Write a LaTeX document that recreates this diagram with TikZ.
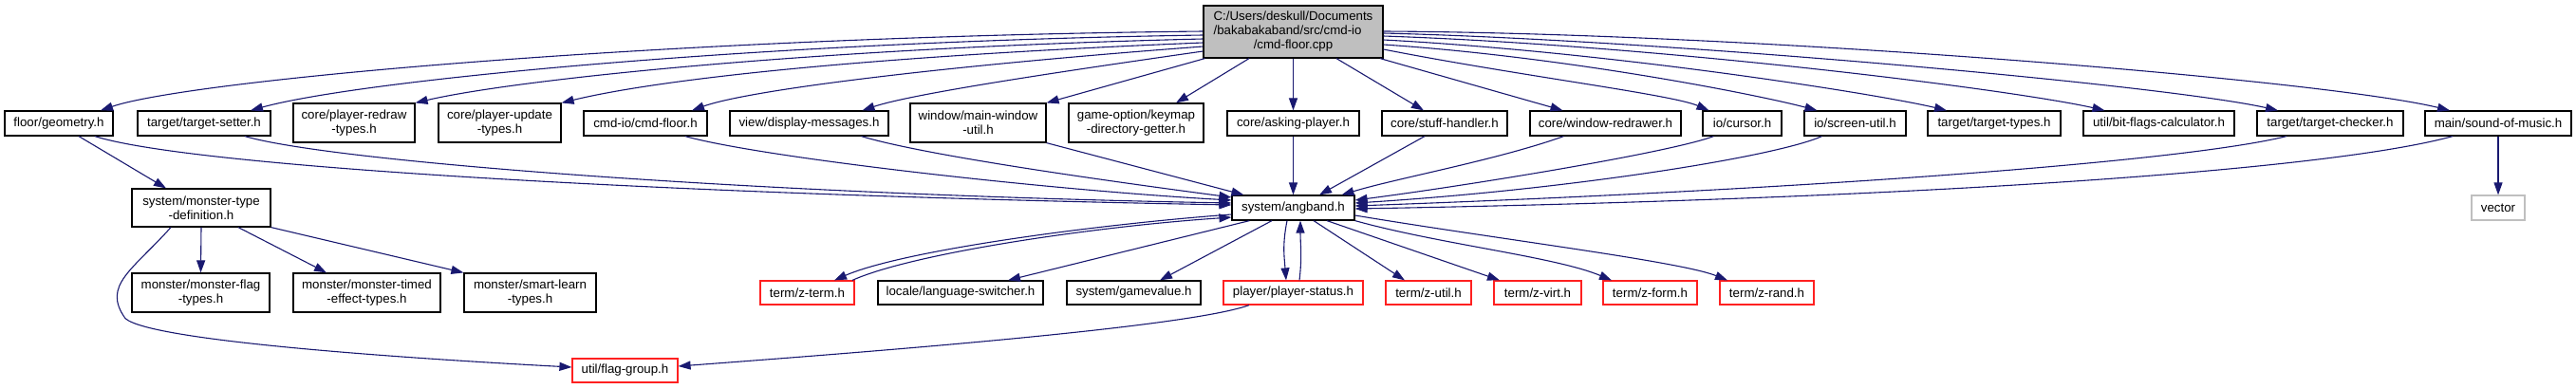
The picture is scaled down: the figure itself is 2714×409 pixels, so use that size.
\documentclass[tikz,border=0pt]{standalone}
\usepackage{fontspec}
\setmainfont{Liberation Sans}
\usetikzlibrary{arrows.meta,calc}
\definecolor{edgecol}{HTML}{191970}
\definecolor{topfill}{HTML}{BFBFBF}
\definecolor{nored}{HTML}{FF2020}
\definecolor{nogrey}{HTML}{BFBFBF}
\begin{document}
\begin{tikzpicture}[x=1bp,y=-1bp,
  nd/.style={draw=black, line width=1.2bp, rectangle, inner sep=0pt, align=center,
     font=\fontsize{13.3bp}{15bp}\selectfont, minimum height=26bp},
  two/.style={minimum height=41bp},
  rnd/.style={nd, draw=nored},
  gnd/.style={nd, draw=nogrey},
  lnk/.style={draw=edgecol, line width=1.1bp, -{Triangle[length=13bp,width=9bp]}}]
\useasboundingbox (0,0) rectangle (2714,409);
% top
\node[nd, fill=topfill, minimum width=189bp, minimum height=55bp] (top) at (1362.5,33.5)
  {\begin{tabular}{@{}l@{}}C:/Users/deskull/Documents\\/bakabakaband/src/cmd-io\\\multicolumn{1}{@{}c@{}}{/cmd-floor.cpp}\end{tabular}};
% row 1
\node[nd, minimum width=114bp] (geom) at (62,130) {floor/geometry.h};
\node[nd, minimum width=140bp] (tsetter) at (215,130) {target/target-setter.h};
\node[nd, two, minimum width=128bp] (predraw) at (373,129.5) {core/player-redraw\\-types.h};
\node[nd, two, minimum width=129bp] (pupdate) at (526.5,129.5) {core/player-update\\-types.h};
\node[nd, minimum width=130bp] (cmdfloor) at (680,130) {cmd-io/cmd-floor.h};
\node[nd, minimum width=167bp] (dispmsg) at (852.5,130) {view/display-messages.h};
\node[nd, two, minimum width=143bp] (mainwin) at (1030.5,129.5) {window/main-window\\-util.h};
\node[nd, two, minimum width=142bp] (keymap) at (1197,129.5) {game-option/keymap\\-directory-getter.h};
\node[nd, minimum width=139bp] (asking) at (1362.5,130) {core/asking-player.h};
\node[nd, minimum width=132bp] (stuff) at (1522,130) {core/stuff-handler.h};
\node[nd, minimum width=159bp] (winredraw) at (1691.5,130) {core/window-redrawer.h};
\node[nd, minimum width=83bp] (cursor) at (1835.5,130) {io/cursor.h};
\node[nd, minimum width=107bp] (screenutil) at (1954.5,130) {io/screen-util.h};
\node[nd, minimum width=140bp] (ttypes) at (2101,130) {target/target-types.h};
\node[nd, minimum width=159bp] (bitflags) at (2274.5,130) {util/bit-flags-calculator.h};
\node[nd, minimum width=154bp] (tchecker) at (2455,130) {target/target-checker.h};
\node[nd, minimum width=154bp] (sound) at (2632,130) {main/sound-of-music.h};
% row 2
\node[nd, minimum width=146bp, minimum height=40bp] (mdef) at (212,219) {system/monster-type\\-definition.h};
\node[nd, minimum width=129bp] (ang) at (1362.5,219) {system/angband.h};
\node[gnd, minimum width=56bp] (vector) at (2632,219) {vector};
% row 3
\node[nd, two, minimum width=145bp] (mflag) at (211.5,308.5) {monster/monster-flag\\-types.h};
\node[nd, two, minimum width=155bp] (mtimed) at (386.5,308.5) {monster/monster-timed\\-effect-types.h};
\node[nd, two, minimum width=139bp] (msmart) at (558.5,308.5) {monster/smart-learn\\-types.h};
\node[rnd, minimum width=99bp, minimum height=25bp] (zterm) at (850.5,308.5) {term/z-term.h};
\node[nd, minimum width=174bp, minimum height=25bp] (langsw) at (1012,308.5) {locale/language-switcher.h};
\node[nd, minimum width=141bp, minimum height=25bp] (gameval) at (1194.5,308.5) {system/gamevalue.h};
\node[rnd, minimum width=147bp, minimum height=25bp] (pstatus) at (1362.5,308.5) {player/player-status.h};
\node[rnd, minimum width=90bp, minimum height=25bp] (zutil) at (1505,308.5) {term/z-util.h};
\node[rnd, minimum width=92bp, minimum height=25bp] (zvirt) at (1620,308.5) {term/z-virt.h};
\node[rnd, minimum width=99bp, minimum height=25bp] (zform) at (1738.5,308.5) {term/z-form.h};
\node[rnd, minimum width=99bp, minimum height=25bp] (zrand) at (1861.5,308.5) {term/z-rand.h};
% row 4
\node[rnd, minimum width=111bp, minimum height=25bp] (fgroup) at (658.5,390.5) {util/flag-group.h};

% ---- edges from top, left side
\draw[lnk] ($(top.west)+(0,-0.5)$) .. controls +(-568,6) and +(94,-32) .. ($(geom.north)+(44,0)$);
\draw[lnk] ($(top.west)+(0,3.5)$) .. controls +(-468,7) and +(116,-32) .. ($(tsetter.north)+(49,0)$);
\draw[lnk] ($(top.west)+(0,7.5)$) .. controls +(-418,10) and +(103,-24) .. (predraw.north east);
\draw[lnk] ($(top.west)+(0,11.5)$) .. controls +(-368,15) and +(99,-24) .. (pupdate.north east);
\draw[lnk] ($(top.west)+(0,15.5)$) .. controls +(-268,20) and +(61,-22) .. ($(cmdfloor.north)+(49,0)$);
\draw[lnk] ($(top.west)+(0,20.5)$) .. controls +(-168,24) and +(51,-17) .. ($(dispmsg.north)+(56,0)$);
\draw[lnk] ($(top.south west)+(2,0)$) -- (mainwin.north east);
\draw[lnk] ($(top.south)+(-46.5,0)$) -- ($(keymap.north)+(42,0)$);
\draw[lnk] (top.south) -- (asking.north);
\draw[lnk] ($(top.south)+(45.5,0)$) -- ($(stuff.north)+(-22,0)$);
\draw[lnk] ($(top.south)+(91.5,0)$) -- ($(winredraw.north)+(-45,0)$);
% right side
\draw[lnk] ($(top.east)+(0,18.5)$) .. controls +(143,28) and +(-40,-17) .. ($(cursor.north)+(-35,0)$);
\draw[lnk] ($(top.east)+(0,13.5)$) .. controls +(193,13) and +(-64.5,-17) .. ($(screenutil.north)+(-40,0)$);
\draw[lnk] ($(top.east)+(0,8.5)$) .. controls +(243,13) and +(-71,-17) .. ($(ttypes.north)+(-50,0)$);
\draw[lnk] ($(top.east)+(0,4.5)$) .. controls +(293,10) and +(-97.5,-22) .. ($(bitflags.north)+(-57,0)$);
\draw[lnk] ($(top.east)+(0,1.5)$) .. controls +(293,7) and +(-120,-27) .. ($(tchecker.north)+(-55,0)$);
\draw[lnk] ($(top.east)+(0,-0.5)$) .. controls +(393,2) and +(-131,-32) .. ($(sound.north)+(-51,0)$);

% ---- into angband
\draw[lnk] ($(geom.south)+(38,0)$) .. controls +(100,32) and +(-598,-11) .. ($(ang.west)+(0,-3)$);
\draw[lnk] ($(tsetter.south)+(43,0)$) .. controls +(92,27) and +(-498,-9) .. ($(ang.west)+(0,-5)$);
\draw[lnk] ($(cmdfloor.south)+(42,0)$) .. controls +(78,22) and +(-198,-11) .. ($(ang.west)+(0,-8)$);
\draw[lnk] ($(dispmsg.south)+(55,0)$) .. controls +(72.5,22) and +(-98,-13) .. ($(ang.west)+(0,-11)$);
\draw[lnk] (mainwin.south east) -- ($(ang.north west)+(13,0)$);
\draw[lnk] (asking.south) -- (ang.north);
\draw[lnk] ($(stuff.south)+(-21,0)$) -- ($(ang.north)+(27.5,0)$);
\draw[lnk] ($(winredraw.south)+(-44,0)$) .. controls +(-70,25) and +(60,-18) .. ($(ang.north)+(51,0)$);
\draw[lnk] ($(cursor.south)+(-30,0)$) .. controls +(-45.5,17) and +(123,-16) .. ($(ang.east)+(0,-8)$);
\draw[lnk] ($(screenutil.south)+(-35,0)$) .. controls +(-49.5,22) and +(223,-14) .. ($(ang.east)+(0,-5)$);
\draw[lnk] ($(tchecker.south)+(-46,0)$) .. controls +(-109,27) and +(473,-17) .. ($(ang.east)+(0,-2)$);
\draw[lnk] ($(sound.south)+(-48,0)$) .. controls +(-134,37) and +(573,-10) .. ($(ang.east)+(0,1)$);

% ---- from angband
\draw[lnk] ($(ang.west)+(0,7)$) .. controls +(-148,11) and +(71,-31) .. ($(zterm.north)+(28.5,0)$);
\draw[lnk] ($(zterm.north)+(47.5,0)$) .. controls +(62,-28) and +(-148,10) .. ($(ang.west)+(0,10)$);
\draw[lnk] ($(ang.south west)+(19,0)$) -- ($(langsw.north)+(50,0)$);
\draw[lnk] ($(ang.south)+(-22.5,0)$) -- ($(gameval.north)+(27.5,0)$);
\draw[lnk] ($(ang.south)+(-6.5,0)$) .. controls +(-5,25) and +(-2,-25) .. ($(pstatus.north)+(-7.5,0)$);
\draw[lnk] ($(pstatus.north)+(6.5,0)$) .. controls +(3,-25) and +(0,25) .. ($(ang.south)+(7.5,0)$);
\draw[lnk] ($(ang.south)+(21.5,0)$) -- ($(zutil.north)+(-25,0)$);
\draw[lnk] ($(ang.south)+(35.5,0)$) -- ($(zvirt.north)+(-40,0)$);
\draw[lnk] (ang.south east) .. controls +(90,25) and +(-60,-25) .. ($(zform.north)+(-40.5,0)$);
\draw[lnk] ($(ang.east)+(0,8)$) .. controls +(150,25) and +(-50,-20) .. ($(zrand.north)+(-41.5,0)$);
\draw[lnk] ($(pstatus.south)+(-46.5,0)$) .. controls +(-66,24) and +(186,-14) .. ($(fgroup.east)+(0,-4.5)$);

% ---- monster part
\draw[lnk] ($(geom.south)+(21,0)$) -- ($(mdef.north)+(-37,0)$);
\draw[lnk] (mdef.south) -- (mflag.north);
\draw[lnk] ($(mdef.south)+(39,0)$) -- ($(mtimed.north)+(-42.5,0)$);
\draw[lnk] (mdef.south east) -- (msmart.north west);
\draw[lnk] ($(mdef.south)+(-32,0)$) .. controls +(-40,45) and +(-25,-35) .. ++(-48,96)
   .. controls +(28,25) and +(-150,-8) .. ($(fgroup.west)+(0,-3.5)$);
\draw[lnk] (sound.south) -- (vector.north);
\end{tikzpicture}
\end{document}
